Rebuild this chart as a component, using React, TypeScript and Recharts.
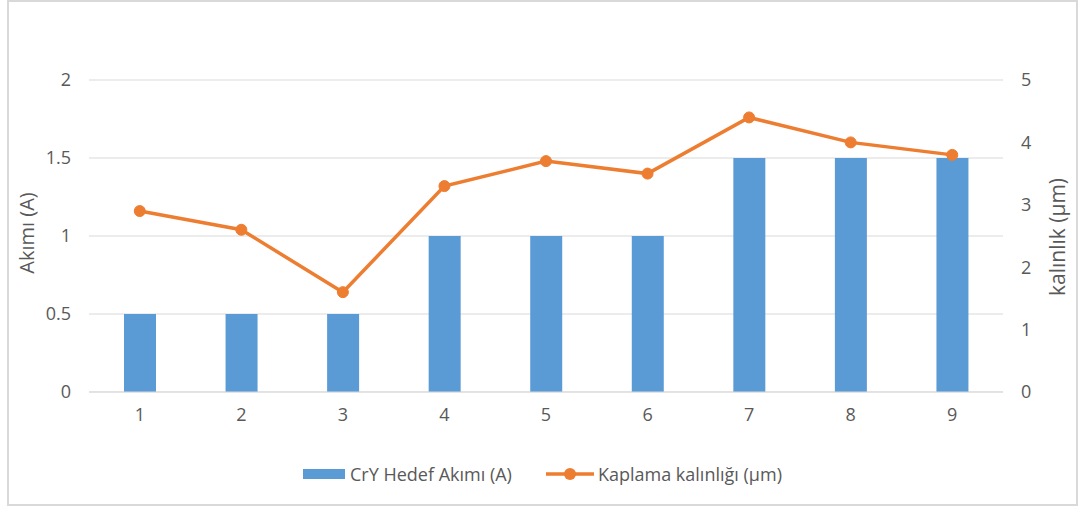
import { Bar, CartesianGrid, ComposedChart, Line, XAxis, YAxis } from "recharts";

const categories = ["1", "2", "3", "4", "5", "6", "7", "8", "9"];
const currentValues = [0.5, 0.5, 0.5, 1, 1, 1, 1.5, 1.5, 1.5];
const thicknessValues = [2.9, 2.6, 1.6, 3.3, 3.7, 3.5, 4.4, 4.0, 3.8];
const leftTicks = [0, 0.5, 1, 1.5, 2];
const rightTicks = [0, 1, 2, 3, 4, 5];

const barColor = "#5B9BD5";
const lineColor = "#ED7D31";
const textColor = "#595959";
const gridColor = "#d9d9d9";
const font = "'Open Sans', 'DejaVu Sans', sans-serif";

const chartData = categories.map((name, i) => ({
  name,
  current: currentValues[i],
  thickness: thicknessValues[i],
}));

export default function App() {
  const tick = { fill: textColor, fontSize: 18, fontFamily: font };

  return (
    <div
      style={{
        position: "absolute",
        left: 0,
        top: 0,
        width: 1085,
        height: 509,
        background: "#fff",
        fontFamily: font,
        overflow: "hidden",
      }}
    >
      <div
        style={{
          position: "absolute",
          left: 7,
          top: 0,
          width: 1071,
          height: 506,
          boxSizing: "border-box",
          border: `2px solid ${gridColor}`,
        }}
      />
      <div style={{ position: "absolute", left: 0, top: 0 }}>
        <ComposedChart
          width={1085}
          height={509}
          data={chartData}
          margin={{ top: 80, right: 0, left: 0, bottom: 0 }}
        >
          <CartesianGrid stroke={gridColor} vertical={false} yAxisId="left" />
          <XAxis
            dataKey="name"
            height={117}
            axisLine={{ stroke: gridColor }}
            tickLine={false}
            tickMargin={10}
            tick={tick}
          />
          <YAxis
            yAxisId="left"
            domain={[0, 2]}
            ticks={leftTicks}
            width={89}
            axisLine={false}
            tickLine={false}
            tickMargin={12}
            tick={tick}
          />
          <YAxis
            yAxisId="right"
            orientation="right"
            domain={[0, 5]}
            ticks={rightTicks}
            width={82}
            axisLine={false}
            tickLine={false}
            tickMargin={12}
            tick={tick}
          />
          <Bar
            yAxisId="left"
            dataKey="current"
            fill={barColor}
            barSize={32}
            isAnimationActive={false}
          />
          <Line
            yAxisId="right"
            dataKey="thickness"
            type="linear"
            stroke={lineColor}
            strokeWidth={3.5}
            dot={{ r: 5.5, fill: lineColor, stroke: lineColor, strokeWidth: 1 }}
            isAnimationActive={false}
          />
        </ComposedChart>
      </div>

      {/* axis titles */}
      <div
        style={{
          position: "absolute",
          left: 26,
          top: 233,
          transform: "translate(-50%, -50%) rotate(-90deg)",
          whiteSpace: "nowrap",
          fontSize: 20,
          color: textColor,
        }}
      >
        Akımı (A)
      </div>
      <div
        style={{
          position: "absolute",
          left: 1057,
          top: 237,
          transform: "translate(-50%, -50%) rotate(-90deg)",
          whiteSpace: "nowrap",
          fontSize: 21,
          color: textColor,
        }}
      >
        kalınlık (µm)
      </div>

      {/* legend */}
      <div
        style={{
          position: "absolute",
          left: 303,
          top: 462,
          height: 24,
          display: "flex",
          alignItems: "center",
          fontSize: 18,
          color: textColor,
          whiteSpace: "nowrap",
        }}
      >
        <span style={{ width: 42, height: 10, background: barColor, marginRight: 5 }} />
        <span>CrY Hedef Akımı (A)</span>
        <svg width={48} height={14} style={{ marginLeft: 34, marginRight: 4 }}>
          <line x1={0} y1={7} x2={48} y2={7} stroke={lineColor} strokeWidth={3.5} />
          <circle cx={24} cy={7} r={6} fill={lineColor} />
        </svg>
        <span>Kaplama kalınlığı (µm)</span>
      </div>
    </div>
  );
}
